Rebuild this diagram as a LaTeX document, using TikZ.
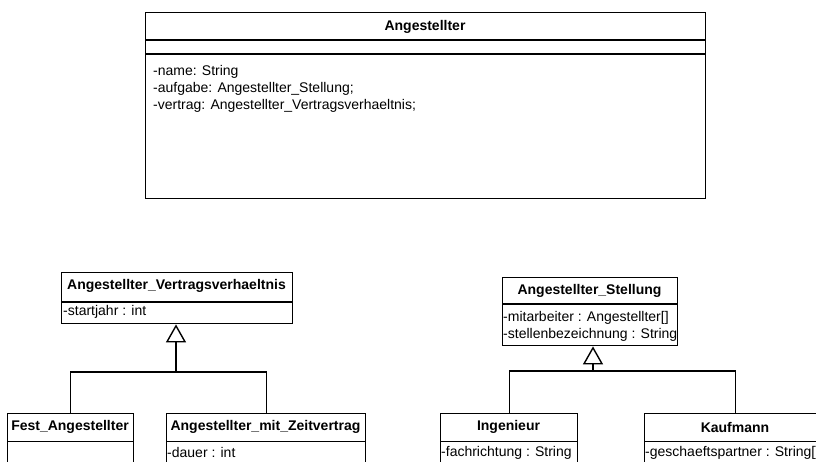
\documentclass[tikz,border=0pt]{standalone}
\usepackage{fontspec}
\setmainfont{Liberation Sans}
\usetikzlibrary{arrows.meta}
\begin{document}
\begin{tikzpicture}[x=1pt,y=-1pt,
  boxline/.style={draw=black,line width=1.4pt},
  cls/.style={boxline,rectangle,anchor=north west,inner sep=0pt,fill=none},
  ttl/.style={font=\fontsize{14}{16}\selectfont\bfseries,inner sep=0pt},
  attr/.style={font=\fontsize{14}{16}\selectfont,inner sep=0pt,anchor=west},
  conn/.style={draw=black,line width=1.4pt},
  inh/.style={conn,-{Triangle[open,length=18pt,width=20pt,line width=1.4pt]}}]
\useasboundingbox (0,0) rectangle (816,461);
\clip (0,0) rectangle (816,461);
% Angestellter
\node[cls,minimum width=560pt,minimum height=186pt] (ang) at (145,12) {};
\draw[boxline] (145,40) -- (705,40);
\draw[boxline] (145,54) -- (705,54);
\node[ttl] (angt) at (425,27) {Angestellter};
\node[attr] (anga1) at (153,72) {-name: String};
\node[attr] (anga2) at (153,89) {-aufgabe: Angestellter\_Stellung;};
\node[attr] (anga3) at (153,106) {-vertrag: Angestellter\_Vertragsverhaeltnis;};
% Vertragsverhaeltnis
\node[cls,minimum width=231pt,minimum height=51pt] (vv) at (61,272) {};
\draw[boxline] (61,302) -- (292,302);
\node[ttl] (vvt) at (176.5,286) {Angestellter\_Vertragsverhaeltnis};
\node[attr] (vva1) at (63,312) {-startjahr : int};
% Fest
\node[cls,minimum width=126pt,minimum height=80pt] (fest) at (7,413) {};
\draw[boxline] (7,441.5) -- (133,441.5);
\node[ttl] (festt) at (70,427) {Fest\_Angestellter};
% Zeitvertrag
\node[cls,minimum width=199pt,minimum height=80pt] (zeit) at (166,413) {};
\draw[boxline] (166,441.5) -- (365,441.5);
\node[ttl] (zeitt) at (265.5,427) {Angestellter\_mit\_Zeitvertrag};
\node[attr] (zeita1) at (167,452.5) {-dauer : int};
% Stellung
\node[cls,minimum width=175pt,minimum height=68pt] (st) at (502,277) {};
\draw[boxline] (502,304) -- (677,304);
\node[ttl] (stt) at (589.5,291) {Angestellter\_Stellung};
\node[attr] (sta1) at (503,318) {-mitarbeiter : Angestellter[]};
\node[attr] (sta2) at (503,335) {-stellenbezeichnung : String};
% Ingenieur
\node[cls,minimum width=137pt,minimum height=80pt] (ing) at (440,413) {};
\draw[boxline] (440,441.5) -- (577,441.5);
\node[ttl] (ingt) at (508.5,427) {Ingenieur};
\node[attr] (inga1) at (441,452.5) {-fachrichtung : String};
% Kaufmann
\node[cls,minimum width=182pt,minimum height=80pt] (kauf) at (644,413) {};
\draw[boxline] (644,441.5) -- (826,441.5);
\node[ttl] (kauft) at (735,427) {Kaufmann};
\node[attr] (kaufa1) at (645,452.5) {-geschaeftspartner : String[]};
% connectors
\coordinate (jl) at (176,372);
\draw[conn] (fest.north) |- (jl) -| (zeit.north);
\draw[inh] (jl) -- (jl |- vv.south);
\coordinate (jr) at (593,371);
\draw[conn] (ing.north) |- (jr) -| (kauf.north);
\draw[inh] (jr) -- (jr |- st.south);
\end{tikzpicture}
\end{document}
